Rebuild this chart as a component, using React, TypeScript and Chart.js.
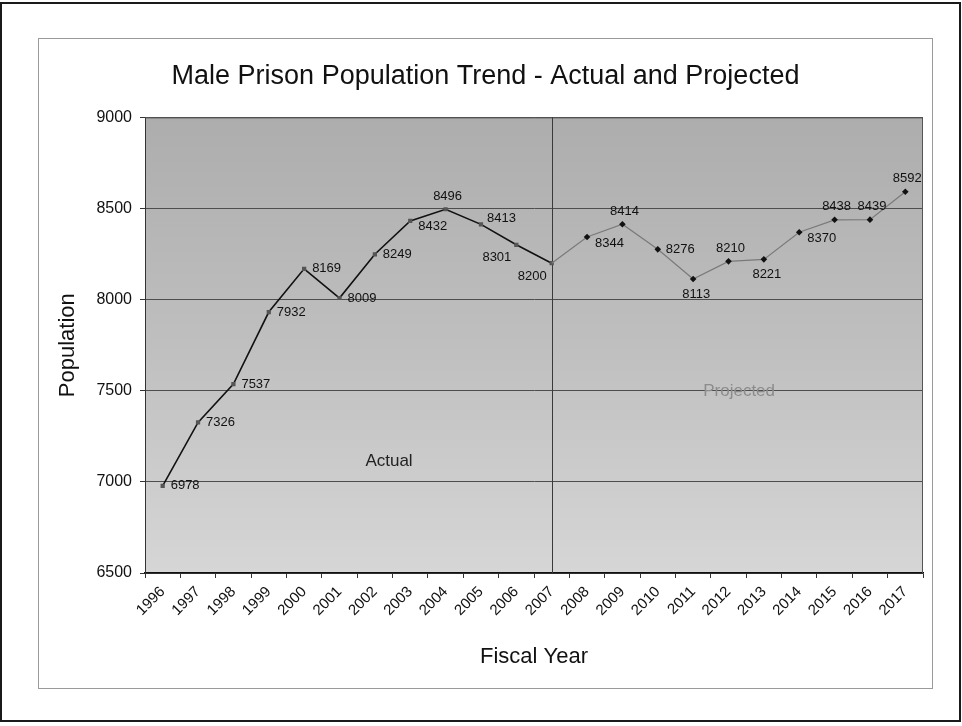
import React, { useEffect, useRef } from "react";
import { Chart, registerables } from "chart.js";

Chart.register(...registerables);

const FONT = "'Liberation Sans', Arial, Helvetica, sans-serif";

const years = [
  "1996", "1997", "1998", "1999", "2000", "2001", "2002", "2003", "2004", "2005", "2006",
  "2007", "2008", "2009", "2010", "2011", "2012", "2013", "2014", "2015", "2016", "2017",
];
const population = [
  6978, 7326, 7537, 7932, 8169, 8009, 8249, 8432, 8496, 8413, 8301,
  8200, 8344, 8414, 8276, 8113, 8210, 8221, 8370, 8438, 8439, 8592,
];
const lastActualYear = "2007";
const labelPlacement = [
  "right", "right", "right", "right", "right", "right", "right", "rightBelow", "above", "rightAbove", "leftBelow",
  "leftBelow", "rightBelow", "above", "right", "below", "above", "below", "rightBelow", "above", "above", "above",
];
const yMin = 6500;
const yMax = 9000;
const yStep = 500;
const noteTexts = ["Actual", "Projected"];
const noteCategoryPos = [6.4, 16.3];
const noteValues = [7115, 7495];
const noteColors = ["#222222", "#8c8c8c"];

const splitIndex = years.indexOf(lastActualYear);
const actualData = population.map((v, i) => (i <= splitIndex ? v : null));
const projectedData = population.map((v, i) => (i >= splitIndex ? v : null));

const decorPlugin = {
  id: "decor",
  beforeDraw(chart: any) {
    const { ctx, chartArea: a, width, height } = chart;
    ctx.save();
    ctx.fillStyle = "#ffffff";
    ctx.fillRect(0, 0, width, height);
    ctx.strokeStyle = "#1a1a1a";
    ctx.lineWidth = 2;
    ctx.strokeRect(1, 3, 959, 718);
    ctx.strokeStyle = "#9a9a9a";
    ctx.lineWidth = 1;
    ctx.strokeRect(38.5, 38.5, 894, 650);
    const g = ctx.createLinearGradient(0, a.top, 0, a.bottom);
    g.addColorStop(0, "#adadad");
    g.addColorStop(0.5, "#bfbfbf");
    g.addColorStop(1, "#d6d6d6");
    ctx.fillStyle = g;
    ctx.fillRect(a.left, a.top, a.right - a.left, a.bottom - a.top);
    ctx.restore();
  },
  beforeDatasetsDraw(chart: any) {
    const { ctx, chartArea: a, scales } = chart;
    ctx.save();
    ctx.strokeStyle = "#555555";
    ctx.lineWidth = 1;
    ctx.beginPath();
    ctx.moveTo(a.left, a.top + 0.5);
    ctx.lineTo(a.right - 0.5, a.top + 0.5);
    ctx.lineTo(a.right - 0.5, a.bottom);
    ctx.stroke();
    const xd = Math.round(scales.x.getPixelForValue(splitIndex)) + 0.5;
    ctx.strokeStyle = "#3a3a3a";
    ctx.beginPath();
    ctx.moveTo(xd, a.top);
    ctx.lineTo(xd, a.bottom);
    ctx.stroke();
    ctx.font = `17px ${FONT}`;
    ctx.textAlign = "center";
    ctx.textBaseline = "middle";
    noteTexts.forEach((t, i) => {
      ctx.fillStyle = noteColors[i];
      ctx.fillText(t, scales.x.getPixelForValue(noteCategoryPos[i]), scales.y.getPixelForValue(noteValues[i]));
    });
    ctx.restore();
  },
  afterDatasetsDraw(chart: any) {
    const { ctx, scales } = chart;
    ctx.save();
    ctx.font = `13px ${FONT}`;
    ctx.fillStyle = "#111111";
    ctx.textBaseline = "middle";
    population.forEach((v, i) => {
      const x = scales.x.getPixelForValue(i);
      const y = scales.y.getPixelForValue(v);
      const p = labelPlacement[i];
      let tx = x + 8, ty = y, al: CanvasTextAlign = "left";
      if (p === "rightBelow") { tx = x + 8; ty = y + 6; }
      else if (p === "rightAbove") { tx = x + 6; ty = y - 6; }
      else if (p === "above") { tx = x + 2; ty = y - 13; al = "center"; }
      else if (p === "below") { tx = x + 3; ty = y + 15; al = "center"; }
      else if (p === "leftBelow") { tx = x - 5; ty = y + 13; al = "right"; }
      ctx.textAlign = al;
      ctx.fillText(String(v), tx, ty);
    });
    ctx.restore();
  },
};

export default function App() {
  const ref = useRef<HTMLCanvasElement | null>(null);
  useEffect(() => {
    if (!ref.current) return;
    Chart.defaults.font.family = FONT;
    const chart = new Chart(ref.current, {
      type: "line",
      data: {
        labels: years,
        datasets: [
          {
            label: "Projected",
            data: projectedData,
            borderColor: "#7a7a7a",
            borderWidth: 1.2,
            pointStyle: "rectRot",
            pointRadius: population.map((_, i) => (i === splitIndex ? 0 : 3.3)),
            pointBackgroundColor: "#111111",
            pointBorderColor: "#111111",
            pointBorderWidth: 0,
            spanGaps: false,
            tension: 0,
          },
          {
            label: "Actual",
            data: actualData,
            borderColor: "#111111",
            borderWidth: 1.6,
            pointStyle: "rect",
            pointRadius: 3,
            pointBackgroundColor: "#555555",
            pointBorderColor: "#555555",
            pointBorderWidth: 0,
            spanGaps: false,
            tension: 0,
          },
        ],
      },
      options: {
        responsive: false,
        animation: false,
        layout: { padding: { left: 48, right: 39, top: 40, bottom: 54 } },
        plugins: {
          legend: { display: false },
          tooltip: { enabled: false },
          title: {
            display: true,
            text: "Male Prison Population Trend - Actual and Projected",
            color: "#111111",
            font: { size: 27, weight: "normal", family: FONT },
            padding: { top: 20, bottom: 25 },
          },
        },
        scales: {
          x: {
            offset: true,
            grid: { offset: true, drawOnChartArea: false, tickLength: 5, tickColor: "#333333" },
            border: { color: "#111111", width: 1.5 },
            ticks: {
              minRotation: 45,
              maxRotation: 45,
              autoSkip: false,
              padding: 5,
              color: "#111111",
              font: { size: 15, family: FONT },
            },
            title: {
              display: true,
              text: "Fiscal Year",
              color: "#111111",
              font: { size: 22, family: FONT },
              padding: { top: 0, bottom: 2 },
            },
            afterFit(s: any) { s.height = 99; },
          },
          y: {
            min: yMin,
            max: yMax,
            ticks: {
              stepSize: yStep,
              padding: 8,
              color: "#111111",
              font: { size: 16, family: FONT },
              callback: (v: any) => String(v),
            },
            grid: { color: "#4d4d4d", lineWidth: 1, tickLength: 5, tickColor: "#333333" },
            border: { color: "#333333", width: 1 },
            title: {
              display: true,
              text: "Population",
              color: "#111111",
              font: { size: 22, family: FONT },
              padding: { top: 7, bottom: 0 },
            },
            afterFit(s: any) { s.width = 97; },
          },
        },
      },
      plugins: [decorPlugin],
    });
    return () => chart.destroy();
  }, []);
  return (
    <div style={{ position: "absolute", left: 0, top: 0, width: 962, height: 726 }}>
      <canvas ref={ref} width={962} height={726} style={{ width: 962, height: 726, display: "block" }} />
    </div>
  );
}
